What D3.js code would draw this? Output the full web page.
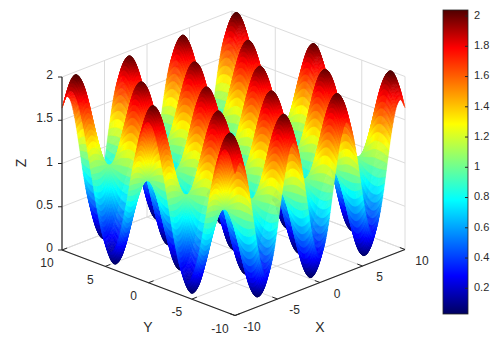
<!DOCTYPE html>
<html>
<head>
<meta charset="utf-8">
<script src="https://cdn.jsdelivr.net/npm/d3@7"></script>
<style>
  html, body { margin: 0; padding: 0; background: #fff; }
  text { font-family: "Liberation Sans", Arial, sans-serif; fill: #2b2b2b; }
</style>
</head>
<body>
<div id="my_dataviz"></div>
<script>
// surface heights. It looks mirror-symmetric in X and Y,
// so one quadrant is listed: rows are |Y| = 0, 0.5 ... 10, columns |X| = 0, 0.5 ... 10
const zQuadrant = [
  [0.00,0.12,0.46,0.93,1.42,1.80,1.99,1.94,1.66,1.22,0.72,0.30,0.05,0.03,0.26,0.67,1.16,1.62,1.93,2.02,1.86],
  [0.06,0.18,0.49,0.93,1.39,1.75,1.93,1.88,1.62,1.20,0.74,0.34,0.11,0.09,0.31,0.69,1.15,1.58,1.88,1.96,1.81],
  [0.24,0.33,0.59,0.95,1.32,1.61,1.75,1.72,1.50,1.17,0.79,0.47,0.28,0.27,0.44,0.75,1.13,1.48,1.71,1.78,1.66],
  [0.51,0.57,0.74,0.97,1.20,1.39,1.49,1.46,1.32,1.11,0.87,0.66,0.54,0.53,0.64,0.85,1.09,1.31,1.47,1.51,1.43],
  [0.85,0.86,0.92,0.99,1.07,1.13,1.16,1.15,1.11,1.04,0.96,0.90,0.86,0.86,0.90,0.96,1.04,1.11,1.16,1.18,1.16],
  [1.20,1.17,1.11,1.02,0.92,0.85,0.81,0.82,0.88,0.97,1.06,1.15,1.20,1.20,1.16,1.08,0.99,0.90,0.84,0.83,0.86],
  [1.53,1.46,1.28,1.04,0.79,0.58,0.49,0.51,0.66,0.90,1.16,1.38,1.51,1.52,1.41,1.20,0.94,0.71,0.55,0.50,0.59],
  [1.79,1.69,1.43,1.06,0.68,0.37,0.23,0.27,0.49,0.84,1.23,1.57,1.77,1.78,1.61,1.29,0.90,0.55,0.31,0.24,0.37],
  [1.96,1.84,1.52,1.07,0.61,0.24,0.07,0.12,0.39,0.81,1.28,1.69,1.93,1.94,1.73,1.35,0.88,0.45,0.16,0.08,0.23],
  [2.00,1.88,1.54,1.08,0.59,0.21,0.02,0.07,0.36,0.80,1.30,1.72,1.97,1.99,1.77,1.37,0.88,0.42,0.12,0.03,0.19],
  [1.93,1.82,1.51,1.07,0.62,0.27,0.09,0.14,0.41,0.82,1.27,1.67,1.90,1.92,1.72,1.34,0.89,0.47,0.18,0.11,0.26],
  [1.74,1.65,1.40,1.06,0.70,0.42,0.28,0.32,0.53,0.86,1.22,1.54,1.72,1.74,1.57,1.28,0.92,0.58,0.36,0.30,0.42],
  [1.47,1.41,1.26,1.04,0.82,0.64,0.56,0.58,0.71,0.92,1.15,1.34,1.46,1.47,1.37,1.18,0.96,0.75,0.61,0.58,0.65],
  [1.13,1.11,1.07,1.02,0.96,0.92,0.90,0.90,0.94,0.99,1.05,1.10,1.13,1.13,1.11,1.06,1.01,0.96,0.92,0.92,0.94],
  [0.78,0.81,0.89,1.00,1.11,1.20,1.25,1.24,1.17,1.07,0.95,0.85,0.80,0.79,0.85,0.94,1.06,1.17,1.25,1.27,1.23],
  [0.46,0.52,0.71,0.97,1.25,1.46,1.57,1.54,1.38,1.14,0.86,0.63,0.49,0.48,0.61,0.83,1.11,1.37,1.54,1.59,1.51],
  [0.21,0.30,0.58,0.96,1.35,1.67,1.82,1.78,1.55,1.19,0.79,0.45,0.25,0.23,0.42,0.75,1.15,1.52,1.78,1.85,1.72],
  [0.05,0.17,0.50,0.95,1.42,1.79,1.97,1.92,1.65,1.23,0.75,0.34,0.10,0.09,0.30,0.70,1.18,1.62,1.92,2.00,1.85],
  [0.02,0.15,0.48,0.95,1.44,1.82,2.01,1.96,1.68,1.24,0.74,0.32,0.07,0.06,0.28,0.69,1.18,1.64,1.95,2.04,1.88],
  [0.12,0.23,0.53,0.96,1.40,1.75,1.92,1.88,1.62,1.22,0.77,0.39,0.16,0.15,0.35,0.72,1.17,1.59,1.87,1.95,1.81],
  [0.32,0.41,0.64,0.98,1.32,1.59,1.73,1.69,1.49,1.18,0.83,0.53,0.36,0.35,0.51,0.79,1.14,1.47,1.69,1.75,1.64]
];
const gridStep = 0.5;
const xTicks = [-10, -5, 0, 5, 10];
const yTicks = [-10, -5, 0, 5, 10];
const zTicks = [0, 0.5, 1, 1.5, 2];
const barTicks = [0.2, 0.4, 0.6, 0.8, 1, 1.2, 1.4, 1.6, 1.8, 2];
const jetStops = [0, 0.125, 0.375, 0.625, 0.875, 1];
const jetColors = ["#000060", "#0000ff", "#00ffff", "#ffff00", "#ff0000", "#500000"];

const svg = d3.select("#my_dataviz").append("svg")
  .attr("width", 493).attr("height", 338).style("display", "block");

const frontCorner = [235, 315.5], xEdge = [170, -66], yEdge = [-173, -65.5], zHeight = 173;
const xs = d3.scaleLinear().domain([-10, 10]).range([0, 1]);
const ys = d3.scaleLinear().domain([-10, 10]).range([0, 1]);
const zs = d3.scaleLinear().domain([0, 2]).range([0, zHeight]);
function project(x, y, z) {
  return [
    frontCorner[0] + xs(x) * xEdge[0] + ys(y) * yEdge[0],
    frontCorner[1] + xs(x) * xEdge[1] + ys(y) * yEdge[1] - zs(z)
  ];
}

const colorRange = [0.03, 2.04];
const jet = d3.scaleLinear()
  .domain(jetStops.map(d => colorRange[0] + d * (colorRange[1] - colorRange[0])))
  .range(jetColors).clamp(true);

// grid on the walls and floor
const gridColor = "#dcdcdc";
function seg(a, b, color, w) {
  const p = project(...a), q = project(...b);
  svg.append("line").attr("x1", p[0]).attr("y1", p[1]).attr("x2", q[0]).attr("y2", q[1])
    .attr("stroke", color).attr("stroke-width", w);
}
xTicks.forEach(t => {
  seg([t, -10, 0], [t, 10, 0], gridColor, 1);
  seg([t, 10, 0], [t, 10, 2], gridColor, 1);
});
yTicks.forEach(t => {
  seg([-10, t, 0], [10, t, 0], gridColor, 1);
  seg([10, t, 0], [10, t, 2], gridColor, 1);
});
zTicks.forEach(t => {
  seg([-10, 10, t], [10, 10, t], gridColor, 1);
  seg([10, 10, t], [10, -10, t], gridColor, 1);
});

// surface, back to front. like shading interp: each cell is split and smoothed for drawing only
const split = 5;
const cells = 2 * (zQuadrant.length - 1);
function height(ix, iy) {
  const n = zQuadrant.length - 1;
  const cx = Math.abs(ix - n), cy = Math.abs(iy - n);
  // one step past the edge, carry on straight
  if (cx > n) return 2 * height(ix > n ? ix - 1 : ix + 1, iy) - height(ix > n ? ix - 2 : ix + 2, iy);
  if (cy > n) return 2 * height(ix, iy > n ? iy - 1 : iy + 1) - height(ix, iy > n ? iy - 2 : iy + 2);
  return zQuadrant[cy][cx];
}
function catmull(a, b, c, d, f) {
  return b + 0.5 * f * (c - a + f * (2 * a - 5 * b + 4 * c - d + f * (3 * (b - c) + d - a)));
}
const fineCount = cells * split + 1;
const fine = [];
for (let j = 0; j < fineCount; j++) {
  const row = [];
  const jc = Math.min(Math.floor(j / split), cells - 1), fy = j / split - jc;
  for (let i = 0; i < fineCount; i++) {
    const ic = Math.min(Math.floor(i / split), cells - 1), fx = i / split - ic;
    const across = [-1, 0, 1, 2].map(k => catmull(
      height(ic - 1, jc + k), height(ic, jc + k), height(ic + 1, jc + k), height(ic + 2, jc + k), fx));
    row.push(catmull(across[0], across[1], across[2], across[3], fy));
  }
  fine.push(row);
}
const step = gridStep / split;
const quads = [];
const line = d3.line();
for (let j = fineCount - 2; j >= 0; j--) {
  for (let i = fineCount - 2; i >= 0; i--) {
    const at = (a, b) => [-10 + (i + a) * step, -10 + (j + b) * step, fine[j + b][i + a]];
    const c = [at(0, 0), at(1, 0), at(1, 1), at(0, 1)];
    quads.push({ pts: c.map(d => project(...d)), z: d3.mean(c, d => d[2]) });
  }
}
const defs = svg.append("defs");
defs.append("filter").attr("id", "soft").attr("filterUnits", "userSpaceOnUse")
  .attr("x", 0).attr("y", 0).attr("width", 493).attr("height", 338)
  .append("feGaussianBlur").attr("stdDeviation", 0.55);
svg.append("g").attr("filter", "url(#soft)")
  .selectAll("path").data(quads).enter().append("path")
  .attr("d", d => line(d.pts) + "Z")
  .attr("fill", d => jet(d.z))
  .attr("stroke", d => jet(d.z))
  .attr("stroke-width", 0.5);

// axes
const axisColor = "#262626";
seg([-10, 10, 0], [-10, 10, 2], axisColor, 1.2);
seg([-10, 10, 0], [-10, -10, 0], axisColor, 1.2);
seg([-10, -10, 0], [10, -10, 0], axisColor, 1.2);

function label(p, txt, size, anchor) {
  return svg.append("text").attr("x", p[0]).attr("y", p[1])
    .attr("text-anchor", anchor || "middle").attr("dominant-baseline", "middle")
    .style("font-size", size + "px").text(txt);
}
zTicks.forEach(t => {
  const p = project(-10, 10, t);
  svg.append("line").attr("x1", p[0] - 4).attr("x2", p[0]).attr("y1", p[1]).attr("y2", p[1]).attr("stroke", axisColor);
  label([p[0] - 9, p[1] - 1], t, 12, "end");
});
yTicks.forEach(t => {
  const p = project(-10, t, 0), q = project(-9.4, t, 0);
  svg.append("line").attr("x1", p[0]).attr("x2", q[0]).attr("y1", p[1]).attr("y2", q[1]).attr("stroke", axisColor);
  label([p[0] - 15, p[1] + 14], t, 12);
});
xTicks.forEach(t => {
  const p = project(t, -10, 0), q = project(t, -9.4, 0);
  svg.append("line").attr("x1", p[0]).attr("x2", q[0]).attr("y1", p[1]).attr("y2", q[1]).attr("stroke", axisColor);
  label([p[0] + 17, p[1] + 12], t, 12);
});
label([148, 328], "Y", 14);
label([320, 328], "X", 14);
label([0, 0], "Z", 14).attr("x", null).attr("y", null).attr("transform", "translate(22,163) rotate(-90)");

// colorbar
const barY = d3.scaleLinear().domain(colorRange).range([314, 10]);
const gradient = defs.append("linearGradient").attr("id", "jetbar")
  .attr("x1", 0).attr("x2", 0).attr("y1", 1).attr("y2", 0);
jetStops.forEach((d, i) => gradient.append("stop").attr("offset", d).attr("stop-color", jetColors[i]));
svg.append("rect").attr("x", 443).attr("width", 25).attr("y", barY(colorRange[1]))
  .attr("height", barY(colorRange[0]) - barY(colorRange[1]))
  .attr("fill", "url(#jetbar)").attr("stroke", axisColor).attr("stroke-width", 0.8);
barTicks.forEach(t => {
  svg.append("line").attr("x1", 465).attr("x2", 468).attr("y1", barY(t)).attr("y2", barY(t)).attr("stroke", axisColor);
  label([474, barY(t)], t, 11, "start");
});
</script>
</body>
</html>
